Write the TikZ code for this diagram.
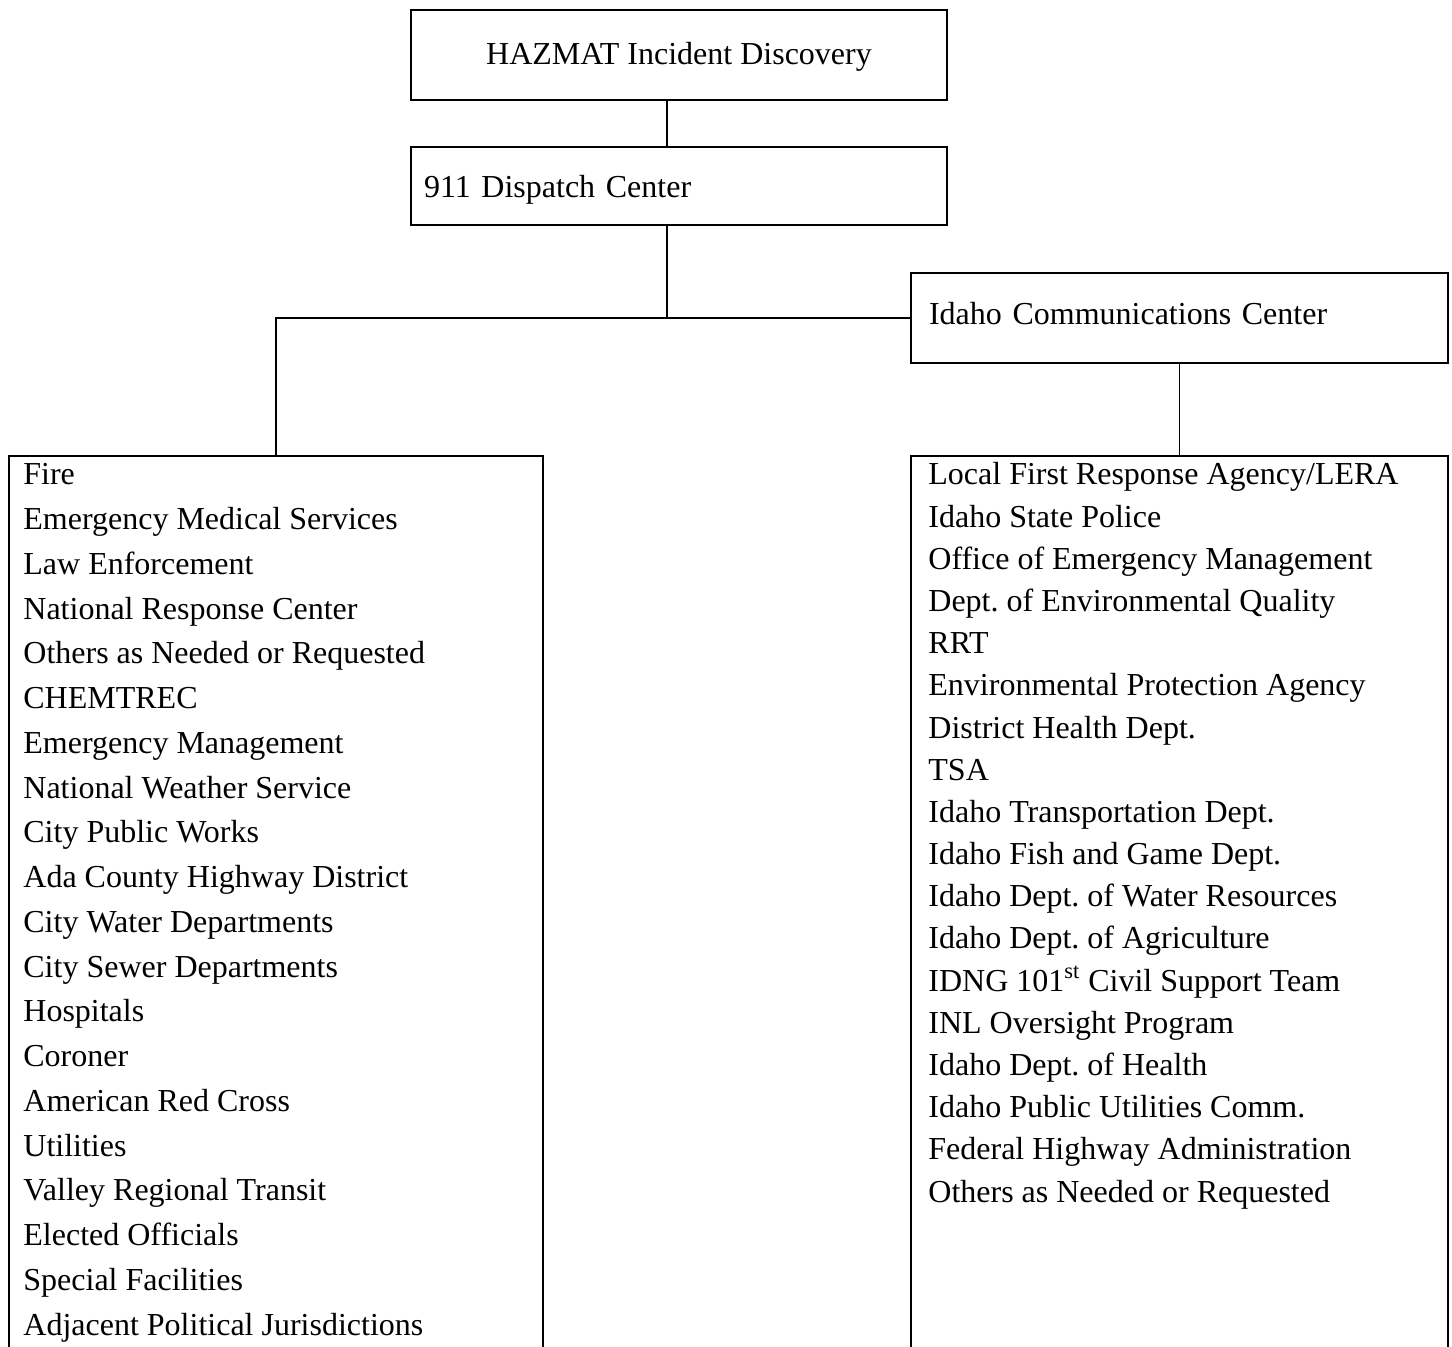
\documentclass[tikz,border=0pt]{standalone}
\usepackage{fontspec}
\setmainfont{Liberation Serif}
\frenchspacing
\tikzset{
  box/.style={draw, line width=1pt, anchor=north west, font=\fontsize{16}{19}\selectfont},
  wire/.style={line width=0.65pt},
  entry/.style={anchor=base west, inner sep=0pt, font=\fontsize{16}{19}\selectfont}
}

\begin{document}
\begin{tikzpicture}[x=0.5pt,y=-0.5pt]
  \useasboundingbox (0,0) rectangle (1452,1347);
  \clip (0,0) rectangle (1452,1347);
  % top of the chain
  \node[box, minimum width=268pt, minimum height=45pt, text depth=1.5pt] (hazmat) at (410,9) {HAZMAT Incident Discovery};
  \node[box, inner xsep=6.5pt, text width=255pt, align=left, minimum height=39pt, text depth=0pt] (dispatch) at (410,146) {\mbox{911 Dispatch Center}};
  \node[box, inner xsep=9pt, text width=250.5pt, align=left, minimum height=45pt, text depth=4.5pt] (idaho) at (910,272) {\mbox{Idaho Communications Center}};
  % the two lists, open at the bottom
  \node[box, minimum width=267pt, minimum height=480pt] (localbox) at (8,455) {};
  \node[box, minimum width=268.5pt, minimum height=480pt] (statebox) at (910,455) {};
  \foreach \t [count=\i from 0] in {Fire, Emergency Medical Services, Law Enforcement,
      National Response Center, Others as Needed or Requested, CHEMTREC,
      Emergency Management, National Weather Service, City Public Works,
      Ada County Highway District, City Water Departments, City Sewer Departments,
      Hospitals, Coroner, American Red Cross, Utilities, Valley Regional Transit,
      Elected Officials, Special Facilities, Adjacent Political Jurisdictions}
    \node[entry] (l\i) at (23,485+44.74*\i) {\t};
  \foreach \t [count=\i from 0] in {{Local First Response Agency/LERA}, Idaho State Police,
      Office of Emergency Management, Dept. of Environmental Quality, RRT,
      Environmental Protection Agency, District Health Dept., TSA,
      Idaho Transportation Dept., Idaho Fish and Game Dept.,
      Idaho Dept. of Water Resources, Idaho Dept. of Agriculture,
      {IDNG 101\textsuperscript{st} Civil Support Team}, INL Oversight Program,
      Idaho Dept. of Health, Idaho Public Utilities Comm.,
      Federal Highway Administration, Others as Needed or Requested}
    \node[entry] (r\i) at (928,485+42.18*\i) {\t};
  % connectors
  \coordinate (split) at (667,0 |- idaho.west);
  \draw[wire] (hazmat.south -| split) -- (dispatch.north -| split);
  \draw[wire] (dispatch.south -| split) -- (split);
  \draw[wire] (localbox.north) |- (idaho.west);
  \draw[wire] (idaho.south) -- (statebox.north);
\end{tikzpicture}
\end{document}
